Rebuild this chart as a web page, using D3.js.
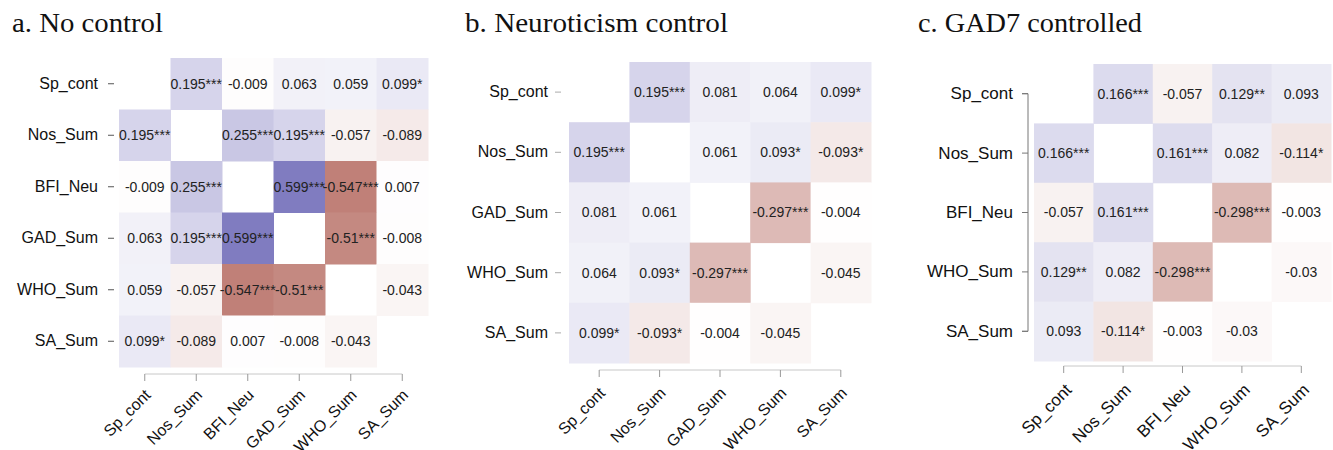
<!DOCTYPE html>
<html>
<head>
<meta charset="utf-8">
<script src="https://cdn.jsdelivr.net/npm/d3@7"></script>
<style>
  body { margin: 0; background: #fff; }
  svg { display: block; }
</style>
</head>
<body>
<svg id="chart" width="1333" height="450"></svg>
<script>
// variable names per panel
var varsA = ["Sp_cont", "Nos_Sum", "BFI_Neu", "GAD_Sum", "WHO_Sum", "SA_Sum"];
var varsB = ["Sp_cont", "Nos_Sum", "GAD_Sum", "WHO_Sum", "SA_Sum"];
var varsC = ["Sp_cont", "Nos_Sum", "BFI_Neu", "WHO_Sum", "SA_Sum"];

// correlation matrices (null = diagonal)
var corrA = [
  [null, 0.195, -0.009, 0.063, 0.059, 0.099],
  [0.195, null, 0.255, 0.195, -0.057, -0.089],
  [-0.009, 0.255, null, 0.599, -0.547, 0.007],
  [0.063, 0.195, 0.599, null, -0.51, -0.008],
  [0.059, -0.057, -0.547, -0.51, null, -0.043],
  [0.099, -0.089, 0.007, -0.008, -0.043, null]
];
var starsA = [
  ["", "***", "", "", "", "*"],
  ["***", "", "***", "***", "", ""],
  ["", "***", "", "***", "***", ""],
  ["", "***", "***", "", "***", ""],
  ["", "", "***", "***", "", ""],
  ["*", "", "", "", "", ""]
];
var corrB = [
  [null, 0.195, 0.081, 0.064, 0.099],
  [0.195, null, 0.061, 0.093, -0.093],
  [0.081, 0.061, null, -0.297, -0.004],
  [0.064, 0.093, -0.297, null, -0.045],
  [0.099, -0.093, -0.004, -0.045, null]
];
var starsB = [
  ["", "***", "", "", "*"],
  ["***", "", "", "*", "*"],
  ["", "", "", "***", ""],
  ["", "*", "***", "", ""],
  ["*", "*", "", "", ""]
];
var corrC = [
  [null, 0.166, -0.057, 0.129, 0.093],
  [0.166, null, 0.161, 0.082, -0.114],
  [-0.057, 0.161, null, -0.298, -0.003],
  [0.129, 0.082, -0.298, null, -0.03],
  [0.093, -0.114, -0.003, -0.03, null]
];
var starsC = [
  ["", "***", "", "**", ""],
  ["***", "", "***", "", "*"],
  ["", "***", "", "***", ""],
  ["**", "", "***", "", ""],
  ["", "*", "", "", ""]
];

var titles = ["a. No control", "b. Neuroticism control", "c. GAD7 controlled"];

var svg = d3.select("#chart");

var posColor = d3.interpolateRgb("#ffffff", "rgb(43,36,150)");
var negColor = d3.interpolateRgb("#ffffff", "rgb(140,23,8)");
function fillFor(v) {
  if (v == null) return "none";
  return v >= 0 ? posColor(v) : negColor(-v);
}

function drawPanel(cfg) {
  var g = svg.append("g");
  var n = cfg.vars.length;

  g.append("text")
    .attr("x", cfg.titleX)
    .attr("y", 32)
    .attr("font-family", "'Liberation Serif', 'DejaVu Serif', serif")
    .attr("font-size", 28)
    .attr("textLength", cfg.titleW)
    .attr("lengthAdjust", "spacingAndGlyphs")
    .attr("fill", "#111")
    .text(cfg.title);

  var x = d3.scaleBand().domain(cfg.vars).range([cfg.x0, cfg.x1]);
  var y = d3.scaleBand().domain(cfg.vars).range([cfg.y0, cfg.y1]);

  var cells = [];
  cfg.corr.forEach(function(row, i) {
    row.forEach(function(v, j) {
      cells.push({ r: cfg.vars[i], c: cfg.vars[j], v: v, s: cfg.stars[i][j] });
    });
  });

  g.selectAll("rect.cell")
    .data(cells.filter(function(d) { return d.v != null; }))
    .enter().append("rect")
      .attr("class", "cell")
      .attr("x", function(d) { return x(d.c); })
      .attr("y", function(d) { return y(d.r); })
      .attr("width", x.bandwidth() + 0.5)
      .attr("height", y.bandwidth() + 0.5)
      .attr("fill", function(d) { return fillFor(d.v); });

  g.selectAll("text.val")
    .data(cells.filter(function(d) { return d.v != null; }))
    .enter().append("text")
      .attr("class", "val")
      .attr("x", function(d) { return x(d.c) + x.bandwidth() / 2; })
      .attr("y", function(d) { return y(d.r) + y.bandwidth() / 2; })
      .attr("dy", "0.35em")
      .attr("text-anchor", "middle")
      .attr("font-family", "'Liberation Sans', Arial, sans-serif")
      .attr("font-size", cfg.valSize)
      .attr("fill", "#222")
      .text(function(d) { return d.v + d.s; });

  // y axis
  var yAxis = d3.axisLeft(y).tickSize(6).tickPadding(cfg.yPad);
  var ya = g.append("g")
    .attr("transform", "translate(" + cfg.yAxisX + ",0)")
    .call(yAxis);
  ya.select(".domain").attr("stroke", cfg.yDomain ? "#777" : "none")
    .attr("d", cfg.yDomain ? "M-6," + (y(cfg.vars[0]) + y.bandwidth() / 2) + "H0V" + (y(cfg.vars[n - 1]) + y.bandwidth() / 2) + "H-6" : null);
  ya.selectAll(".tick line").attr("stroke", cfg.yTickColor);
  ya.selectAll(".tick text")
    .attr("font-family", "'Liberation Sans', Arial, sans-serif")
    .attr("font-size", cfg.labSize)
    .attr("fill", "#111");

  // x axis
  var xAxis = d3.axisBottom(x).tickSize(7).tickSizeOuter(0);
  var xa = g.append("g")
    .attr("transform", "translate(0," + cfg.xAxisY + ")")
    .call(xAxis);
  var first = x(cfg.vars[0]) + x.bandwidth() / 2;
  var last = x(cfg.vars[n - 1]) + x.bandwidth() / 2;
  xa.select(".domain").attr("stroke", "#c8c8c8")
    .attr("d", "M" + first + ",0H" + last);
  xa.selectAll(".tick line").attr("stroke", "#999");
  xa.selectAll(".tick text")
    .attr("font-family", "'Liberation Sans', Arial, sans-serif")
    .attr("font-size", cfg.labSize)
    .attr("fill", "#111")
    .attr("text-anchor", "end")
    .attr("x", 0)
    .attr("y", 0)
    .attr("dy", 0)
    .attr("transform", "translate(" + cfg.xLabDx + "," + cfg.xLabDy + ") rotate(-45)");
}

drawPanel({
  title: titles[0], titleX: 12, titleW: 151, vars: varsA, corr: corrA, stars: starsA,
  x0: 119, x1: 428, y0: 58, y1: 367, valSize: 14, labSize: 16,
  yAxisX: 114, yPad: 10, yDomain: false, yTickColor: "#555", xAxisY: 374,
  xLabDx: 7, xLabDy: 22
});
drawPanel({
  title: titles[1], titleX: 465, titleW: 263, vars: varsB, corr: corrB, stars: starsB,
  x0: 569, x1: 871, y0: 62, y1: 363, valSize: 14, labSize: 16,
  yAxisX: 561, yPad: 7, yDomain: false, yTickColor: "#aaa", xAxisY: 370,
  xLabDx: 7, xLabDy: 24
});
drawPanel({
  title: titles[2], titleX: 918, titleW: 224, vars: varsC, corr: corrC, stars: starsC,
  x0: 1034, x1: 1331, y0: 64, y1: 361, valSize: 14, labSize: 17,
  yAxisX: 1028, yPad: 9, yDomain: true, yTickColor: "#777", xAxisY: 366,
  xLabDx: 9, xLabDy: 25
});
</script>
</body>
</html>
